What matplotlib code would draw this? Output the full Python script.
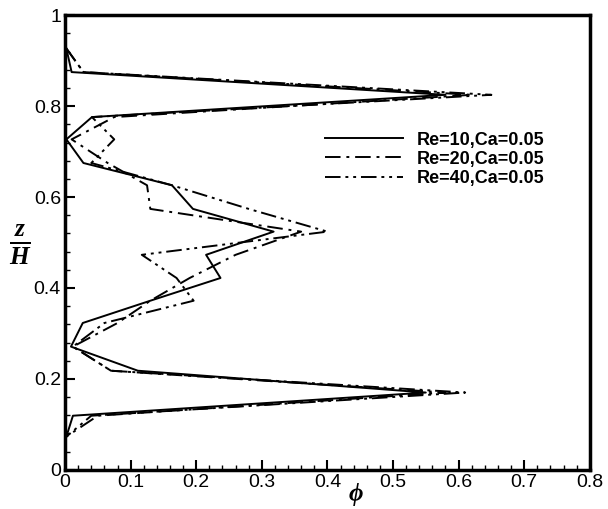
import matplotlib.pyplot as plt
from matplotlib.ticker import MultipleLocator

# profili della frazione di volume phi lungo z/H
z_H = [0.927, 0.875, 0.825, 0.776, 0.727, 0.675, 0.626, 0.574, 0.524,
       0.473, 0.422, 0.372, 0.323, 0.271, 0.218, 0.170, 0.119, 0.073]

phi_re10 = [0.002, 0.010, 0.58, 0.041, 0.002, 0.028, 0.163, 0.195, 0.318,
            0.215, 0.237, 0.13, 0.027, 0.009, 0.111, 0.55, 0.012, 0.002]
phi_re20 = [0.002, 0.028, 0.62, 0.075, 0.010, 0.065, 0.125, 0.130, 0.36,
            0.26, 0.19, 0.13, 0.08, 0.012, 0.07, 0.58, 0.05, 0.002]
phi_re40 = [0.002, 0.028, 0.65, 0.041, 0.075, 0.04, 0.163, 0.28, 0.40,
            0.117, 0.17, 0.196, 0.06, 0.012, 0.07, 0.61, 0.04, 0.002]

labels = ['Re=10,Ca=0.05', 'Re=20,Ca=0.05', 'Re=40,Ca=0.05']

plt.rcParams['font.family'] = 'Liberation Sans'
plt.rcParams['mathtext.fontset'] = 'custom'
plt.rcParams['mathtext.it'] = 'Liberation Serif:italic:bold'
plt.rcParams['mathtext.rm'] = 'Liberation Serif:bold'

fig = plt.figure(figsize=(6.08, 5.09), dpi=100)
ax = fig.add_axes([0.107, 0.077, 0.863, 0.893])

ax.plot(phi_re10, z_H, color='black', lw=1.4, linestyle='-', label=labels[0])
ax.plot(phi_re20, z_H, color='black', lw=1.4, linestyle=(0, (8, 3, 1.5, 3)), label=labels[1])
ax.plot(phi_re40, z_H, color='black', lw=1.4, linestyle=(0, (8, 2.5, 1.5, 2.5, 1.5, 2.5)), label=labels[2])

ax.set_xlim(0, 0.8)
ax.set_ylim(0, 1)
ax.xaxis.set_major_locator(MultipleLocator(0.1))
ax.xaxis.set_minor_locator(MultipleLocator(0.02))
ax.yaxis.set_major_locator(MultipleLocator(0.2))
ax.yaxis.set_minor_locator(MultipleLocator(0.04))
ax.tick_params(which='major', direction='in', length=7, width=1.5, labelsize=14, pad=3)
ax.tick_params(which='minor', direction='in', length=3.5, width=1)
ax.xaxis.set_major_formatter(plt.FuncFormatter(lambda v, p: f'{v:g}'))
ax.yaxis.set_major_formatter(plt.FuncFormatter(lambda v, p: f'{v:g}'))
for s in ax.spines.values():
    s.set_linewidth(2.5)

ax.set_xlabel(r'$\phi$', fontsize=18)
ax.xaxis.set_label_coords(0.554, -0.025, transform=ax.transAxes)
ax.xaxis.label.set_verticalalignment('top')
ax.set_ylabel(r'$\frac{z}{H}$', fontsize=26, rotation=0)
ax.yaxis.set_label_coords(-0.086, 0.495, transform=ax.transAxes)
ax.yaxis.label.set_verticalalignment('center')

leg = ax.legend(loc='upper right', bbox_to_anchor=(0.945, 0.78), frameon=False,
                handlelength=4.3, labelspacing=0.12, prop={'weight': 'bold', 'size': 13})

plt.savefig('out.png', dpi=100)
